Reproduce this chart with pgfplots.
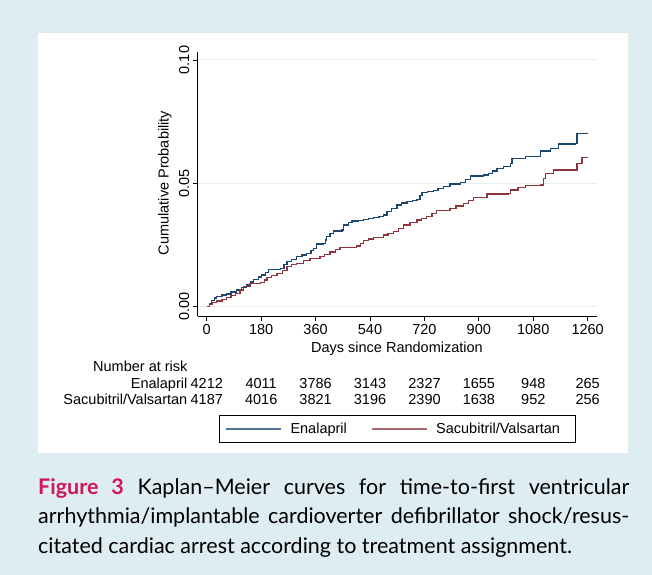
\documentclass[border=0pt]{standalone}
\usepackage{pgfplots}
\pgfplotsset{compat=1.18}
\usepackage{fontspec}
\setmainfont{Liberation Sans}
\newfontfamily\capfont{Lato}
\definecolor{bgblue}{RGB}{221,237,242}
\definecolor{navy}{RGB}{26,71,111}
\definecolor{maroon}{RGB}{144,53,59}
\definecolor{gridc}{RGB}{230,239,241}
\definecolor{figred}{RGB}{208,22,88}
\newcommand\cf{\fontsize{14.5bp}{17bp}\selectfont}
\newcommand\capf{\capfont\fontsize{21.5bp}{29bp}\selectfont}
\begin{document}
\begin{tikzpicture}[x=1bp,y=1bp]
\fill[bgblue] (0bp,0bp) rectangle (652bp,575bp);
\fill[white] (38bp,121.7bp) rectangle (628.3bp,542.3bp);
\begin{axis}[
  at={(197.7bp,259bp)}, anchor=south west,
  scale only axis, width=399bp, height=264.3bp,
  xmin=-30, xmax=1290, ymin=-0.00377, ymax=0.10336,
  axis lines*=left,
  axis line style={black, line width=0.8bp},
  tick align=outside, major tick length=5bp,
  tick style={black, line width=0.8bp},
  xtick={0,180,360,540,720,900,1080,1260},
  xticklabels={0,180,360,540,720,900,1080,1260},
  ytick={0,0.05,0.1},
  yticklabels={0.00,0.05,0.10},
  /pgf/number format/assume math mode=true,
  ymajorgrids, grid style={gridc, line width=1bp},
  ticklabel style={font=\cf},
  yticklabel style={rotate=90, anchor=south},
  label style={font=\cf},
  xlabel={Days since Randomization},
  ylabel={Cumulative Probability},
  xlabel style={at={(axis description cs:0.4995,-0.1249)}, anchor=center},
  ylabel style={at={(axis description cs:-0.082,0.503)}, anchor=center},
  legend columns=2,
  legend style={at={(axis description cs:0.4995,-0.4275)}, anchor=center,
    draw=black, line width=0.8bp, inner sep=0pt, column sep=0pt,
    nodes={inner sep=0pt, draw=none}, font=\cf},
  legend image code/.code={\path[draw=none,fill=none] (-6.7bp,-13.3bp) rectangle (64.7bp,13.3bp);
    \draw[#1, line width=1.1bp, opacity=0.75] (0bp,0bp) -- (55bp,0bp);},
  clip=false,
]
\addplot[navy, line width=1.3bp, const plot] coordinates {
(0,0) (8,0.0012) (15,0.0025) (25,0.0035) (33,0.0042) (50,0.0048) (66,0.0052)
(80,0.0060) (99,0.0068) (115,0.0077) (132,0.0088) (145,0.0100) (154,0.0110)
(170,0.0120) (182,0.0128) (195,0.0140) (204,0.0151) (243,0.0155) (255,0.0170)
(265,0.0182) (280,0.0192) (298,0.0203) (315,0.0210) (331,0.0216) (345,0.0228)
(353,0.0236) (364,0.0254) (386,0.0257) (392,0.0270) (397,0.0284) (408,0.0297)
(419,0.0307) (447,0.0311) (452,0.0331) (468,0.0340) (480,0.0347) (500,0.0350)
(519,0.0354) (535,0.0357) (552,0.0361) (570,0.0366) (585,0.0372) (596,0.0385)
(610,0.0398) (629,0.0412) (645,0.0420) (662,0.0426) (680,0.0430) (695,0.0435)
(705,0.0450) (712,0.0462) (730,0.0466) (750,0.0470) (765,0.0478) (783,0.0486)
(805,0.0497) (839,0.0503) (855,0.0515) (872,0.0530) (916,0.0534) (932,0.0540)
(945,0.0550) (960,0.0561) (982,0.0568) (1005,0.0580) (1010,0.0601) (1054,0.0608)
(1103,0.0631) (1136,0.0642) (1164,0.0659) (1219,0.0662) (1225,0.0703) (1260,0.0703)
};
\addlegendentry{\makebox[74.3bp][l]{Enalapril}}
\addplot[maroon, line width=1.3bp, const plot] coordinates {
(0,0) (10,0.0010) (20,0.0018) (33,0.0023) (50,0.0030) (66,0.0038) (80,0.0045)
(94,0.0054) (110,0.0068) (121,0.0081) (143,0.0095) (177,0.0097) (190,0.0108)
(199,0.0119) (215,0.0127) (232,0.0135) (250,0.0148) (265,0.0162) (280,0.0170)
(298,0.0176) (320,0.0187) (342,0.0196) (375,0.0203) (390,0.0212) (408,0.0222)
(425,0.0232) (441,0.0241) (496,0.0246) (508,0.0257) (519,0.0268) (535,0.0275)
(552,0.0281) (585,0.0291) (600,0.0297) (618,0.0304) (635,0.0318) (651,0.0331)
(672,0.0340) (695,0.0351) (710,0.0358) (728,0.0365) (745,0.0377) (761,0.0389)
(805,0.0399) (825,0.0408) (849,0.0419) (865,0.0430) (883,0.0443) (927,0.0457)
(999,0.0459) (1004,0.0473) (1030,0.0482) (1054,0.0491) (1103,0.0493) (1115,0.0520)
(1120,0.0541) (1147,0.0554) (1219,0.0554) (1225,0.0581) (1241,0.0605) (1260,0.0605)
};
\addlegendentry{\makebox[138.7bp][l]{Sacubitril/Valsartan}}
\end{axis}
% number at risk table
\node[anchor=base west, inner sep=0pt, font=\cf] at (93bp,203.3bp) {Number at risk};
\node[anchor=base east, inner sep=0pt, font=\cf] at (187.5bp,186.7bp) {Enalapril};
\node[anchor=base east, inner sep=0pt, font=\cf] at (187.5bp,170bp) {Sacubitril/Valsartan};
\foreach \xx/\a/\b in {206.8/4212/4187, 261.2/4011/4016, 315.6/3786/3821, 370.0/3143/3196,
  424.5/2327/2390, 478.9/1655/1638, 533.3/948/952, 587.7/265/256} {
  \node[anchor=base, inner sep=0pt, font=\cf] at (\xx bp,186.7bp) {\a};
  \node[anchor=base, inner sep=0pt, font=\cf] at (\xx bp,170bp) {\b};
}
% caption
\node[anchor=base west, inner sep=0pt] at (38bp,80bp) {\capf\makebox[591bp][s]{\textcolor{figred}{\bfseries Figure 3} Kaplan–Meier curves for time-to-first ventricular}};
\node[anchor=base west, inner sep=0pt] at (38bp,51bp) {\capf\makebox[591bp][s]{arrhythmia/implantable cardioverter defibrillator shock/resus-}};
\node[anchor=base west, inner sep=0pt] at (38bp,22bp) {\capf citated cardiac arrest according to treatment assignment.};
\end{tikzpicture}
\end{document}
